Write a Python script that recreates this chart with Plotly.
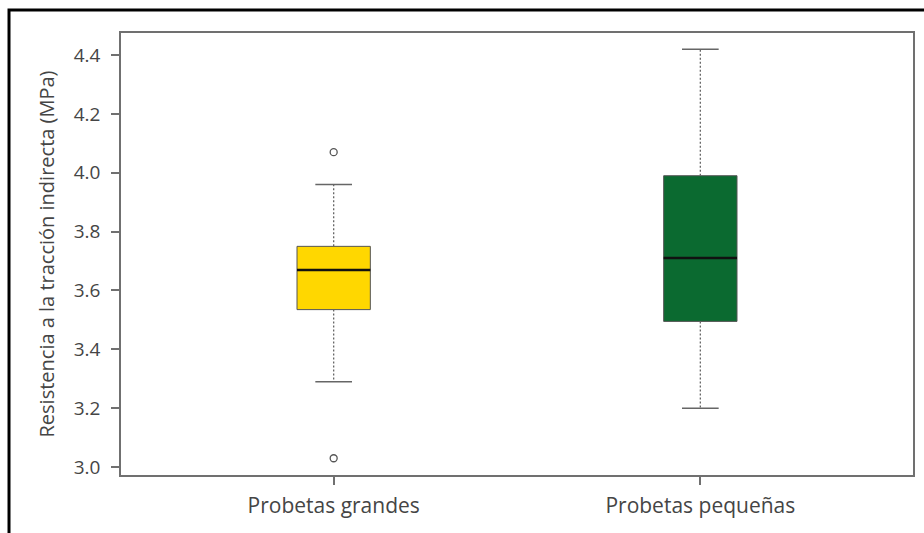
import plotly.graph_objects as go

# ---- data ----
categories = ["Probetas grandes", "Probetas pequeñas"]
positions = [1, 2]
q1_vals = [3.535, 3.495]
median_vals = [3.67, 3.71]
q3_vals = [3.75, 3.99]
lower_whisker = [3.29, 3.20]
upper_whisker = [3.96, 4.42]
outliers_x = [1, 1]
outliers_y = [4.07, 3.03]
y_ticks = [3.0, 3.2, 3.4, 3.6, 3.8, 4.0, 4.2, 4.4]
y_ticklabels = ["3.0", "3.2", "3.4", "3.6", "3.8", "4.0", "4.2", "4.4"]

fill_colors = ["#FFD700", "#0B6A30"]
box_w = 0.2
cap_half = 0.05
font_family = "Open Sans"
text_color = "#454545"
axis_color = "#707070"

fig = go.Figure()

for i, pos in enumerate(positions):
    # whiskers (dotted)
    fig.add_trace(go.Scatter(
        x=[pos, pos, None, pos, pos],
        y=[q3_vals[i], upper_whisker[i], None, q1_vals[i], lower_whisker[i]],
        mode="lines", line=dict(color="#666666", width=1.3, dash="2px,2px"),
        hoverinfo="skip", showlegend=False))
    # caps
    fig.add_trace(go.Scatter(
        x=[pos - cap_half, pos + cap_half, None, pos - cap_half, pos + cap_half],
        y=[upper_whisker[i], upper_whisker[i], None, lower_whisker[i], lower_whisker[i]],
        mode="lines", line=dict(color="#666666", width=1.5),
        hoverinfo="skip", showlegend=False))
    # box
    fig.add_trace(go.Box(
        x=[pos], q1=[q1_vals[i]], median=[median_vals[i]], q3=[q3_vals[i]],
        lowerfence=[q1_vals[i]], upperfence=[q3_vals[i]],
        width=box_w, whiskerwidth=0,
        fillcolor=fill_colors[i], line=dict(color="#555555", width=1),
        boxpoints=False, showlegend=False, name=categories[i]))
    # median
    fig.add_trace(go.Scatter(
        x=[pos - box_w / 2, pos + box_w / 2],
        y=[median_vals[i], median_vals[i]],
        mode="lines", line=dict(color="#111111", width=2.5),
        hoverinfo="skip", showlegend=False))

# outliers
fig.add_trace(go.Scatter(
    x=outliers_x, y=outliers_y, mode="markers",
    marker=dict(symbol="circle-open", size=7, color="#555555", line=dict(width=1.3)),
    showlegend=False))

# outer frame of the cropped figure
fig.add_shape(type="rect", xref="paper", yref="paper",
              x0=-0.1414, x1=1.2, y0=-0.3, y1=1.052,
              line=dict(color="#000000", width=3), fillcolor="rgba(0,0,0,0)")

fig.update_layout(
    width=924, height=533,
    margin=dict(l=121, r=11, t=33, b=58, autoexpand=False),
    paper_bgcolor="white", plot_bgcolor="white",
    font=dict(family=font_family, color=text_color, size=17),
)
fig.update_xaxes(
    range=[0.42, 2.58], tickvals=positions, ticktext=categories,
    showline=True, linecolor=axis_color, linewidth=1.5, mirror=True,
    ticks="outside", ticklen=8, tickcolor=axis_color, tickwidth=1.5,
    showgrid=False, zeroline=False, tickfont=dict(size=21), ticklabelstandoff=3)
fig.update_yaxes(
    range=[2.973, 4.475], tickvals=y_ticks, ticktext=y_ticklabels,
    showline=True, linecolor=axis_color, linewidth=1.5, mirror=True,
    ticks="outside", ticklen=8, tickcolor=axis_color, tickwidth=1.5,
    showgrid=False, zeroline=False, tickfont=dict(size=19), ticklabelstandoff=7,
    title=dict(text="Resistencia a la tracción indirecta (MPa)", font=dict(size=20), standoff=14))

fig.write_html("out.html", config={"displayModeBar": False},
               post_script="document.body.style.margin='0';")
